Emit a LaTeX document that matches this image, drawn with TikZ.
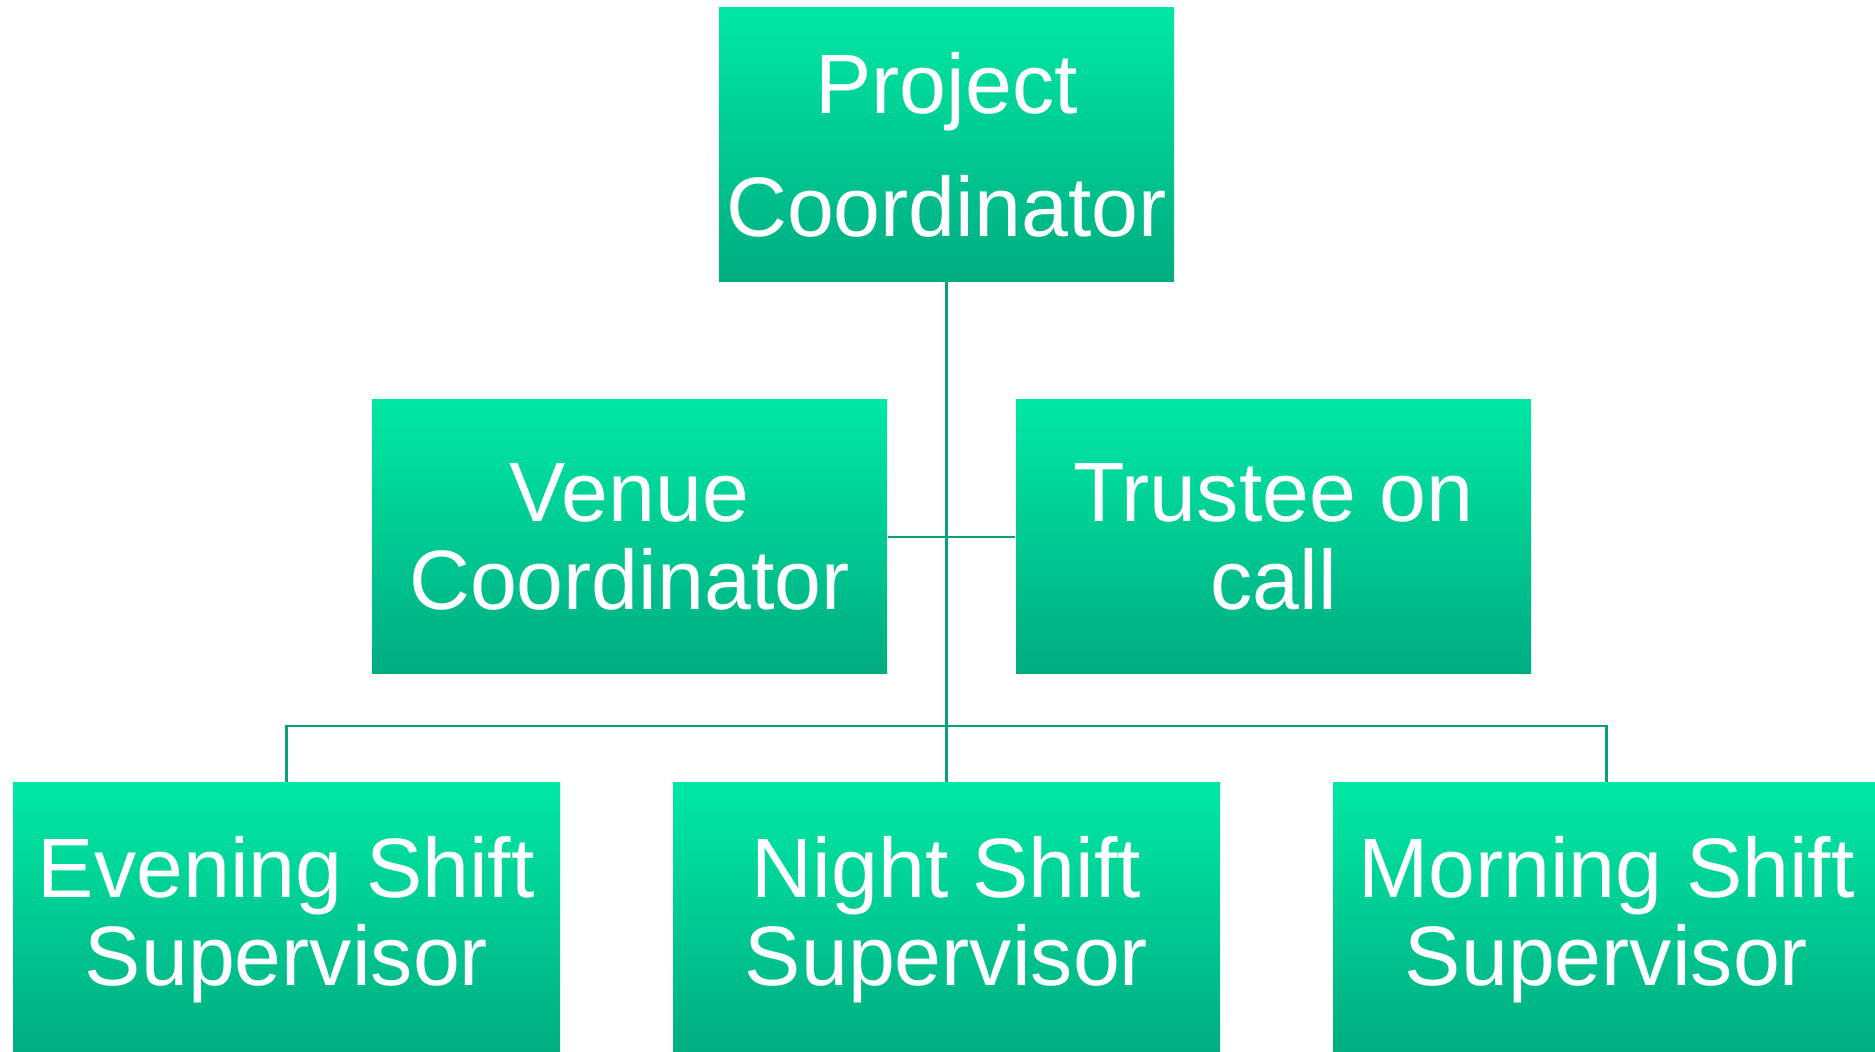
\documentclass[tikz,border=0pt]{standalone}
\usepackage{fontspec}
\setmainfont{Liberation Sans}

\definecolor{boxtop}{RGB}{0,232,165}
\definecolor{boxbottom}{RGB}{0,172,128}
\definecolor{linkgreen}{RGB}{8,160,122}

\begin{document}
\begin{tikzpicture}[
	role/.style = {rectangle, top color=boxtop, bottom color=boxbottom, text=white, align=center, inner sep=0pt, minimum height=2.74cm, font=\fontsize{24}{25}\selectfont},
	link/.style = {draw=linkgreen, line width=0.6pt}]

\useasboundingbox (0,0) rectangle (18.75,10.52);

% top of the chart
\node[role, minimum width=4.55cm, font=\fontsize{24}{35}\selectfont] (project) at (9.465,9.075) {Project\\Coordinator};

% middle row
\node[role, minimum width=5.15cm] (venue) at (6.295,5.15) {Venue\\Coordinator};
\node[role, minimum width=5.15cm] (trustee) at (12.735,5.15) {Trustee on\\call};

% shift supervisors
\node[role, minimum width=5.47cm] (evening) at (2.865,1.32) {Evening Shift\\Supervisor};
\node[role, minimum width=5.47cm] (night) at (9.465,1.32) {Night Shift\\Supervisor};
\node[role, minimum width=5.47cm] (morning) at (16.065,1.32) {Morning Shift\\Supervisor};

% connectors
\coordinate (bus) at (9.465,3.26);
\draw[link] (project.south) -- (night.north);
\draw[link] (venue.east) -- (trustee.west);
\draw[link] (evening.north) |- (bus) -| (morning.north);

\end{tikzpicture}
\end{document}
